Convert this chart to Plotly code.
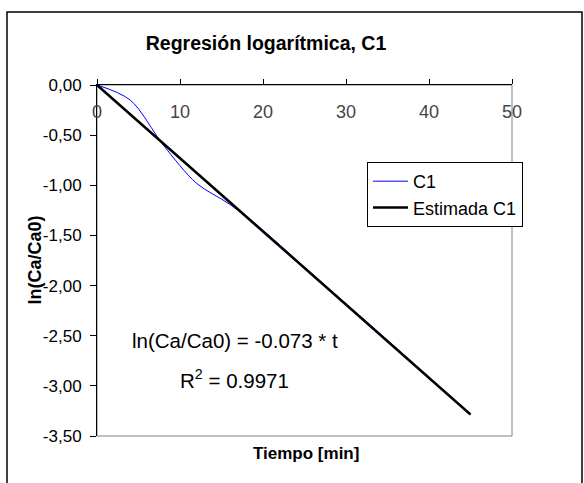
import plotly.graph_objects as go

# Data
t_c1 = [0, 4, 8, 12, 16, 20, 25, 30, 35, 40, 45]
ln_c1 = [0.0, -0.15, -0.60, -0.98, -1.19, -1.45, -1.815, -2.18, -2.545, -2.915, -3.285]
slope = -0.073
t_est = [0, 45]
ln_est = [slope * t for t in t_est]
x_ticks = [0, 10, 20, 30, 40, 50]
y_ticks = [0, -0.5, -1.0, -1.5, -2.0, -2.5, -3.0, -3.5]
y_tick_text = ["0,00", "-0,50", "-1,00", "-1,50", "-2,00", "-2,50", "-3,00", "-3,50"]

W, H = 584, 483
L, R, T, B = 97, 72, 85, 47
pw, ph = W - L - R, H - T - B

def px(xp):
    return (xp - L) / pw

def py(yp):
    return (H - B - yp) / ph

FONT = "Liberation Sans, Arial, sans-serif"

fig = go.Figure()
fig.add_trace(go.Scatter(x=t_c1, y=ln_c1, mode="lines", name="C1",
                         line=dict(color="#0000FF", width=1, shape="spline", smoothing=0.9)))
fig.add_trace(go.Scatter(x=t_est, y=ln_est, mode="lines", name="Estimada C1",
                         line=dict(color="#000000", width=2.5)))

fig.update_layout(
    width=W, height=H,
    margin=dict(l=L, r=R, t=T, b=B),
    paper_bgcolor="white", plot_bgcolor="white",
    font=dict(family=FONT, color="black", size=16),
    title=dict(text="<b>Regresión logarítmica, C1</b>", xref="container", yref="container",
               x=266 / W, y=1 - 43 / H, xanchor="center", yanchor="middle",
               font=dict(size=19.5, family=FONT, color="black")),
    xaxis=dict(range=[0, 50], tickvals=x_ticks, side="top", ticks="outside", ticklen=5,
               tickcolor="black", showline=True, linecolor="black", linewidth=1,
               showgrid=False, zeroline=False, ticklabelposition="inside",
               ticklabeloverflow="allow", ticklabelstandoff=21, tickfont=dict(size=18)),
    yaxis=dict(range=[-3.5, 0], tickvals=y_ticks, ticktext=y_tick_text, ticks="outside", ticklen=6,
               tickcolor="black", showline=True, linecolor="black", linewidth=1,
               showgrid=False, zeroline=False, ticklabelstandoff=5, tickfont=dict(size=17)),
    legend=dict(x=px(367), y=py(162), xanchor="left", yanchor="top",
                bgcolor="white", bordercolor="black", borderwidth=1,
                font=dict(size=18), tracegroupgap=0, itemwidth=35),
    showlegend=True,
)

# plot area gray border (right & bottom)
fig.add_shape(type="rect", xref="paper", yref="paper", x0=0, x1=1, y0=0, y1=1,
              line=dict(color="#808080", width=1), layer="below")
# outer chart frame
fig.add_shape(type="rect", xref="paper", yref="paper", x0=px(7), x1=px(582), y0=py(495), y1=py(12),
              line=dict(color="black", width=1.5), layer="below")

fig.add_annotation(text="<b>ln(Ca/Ca0)</b>", xref="paper", yref="paper", x=px(22), y=0.5,
                   textangle=-90, showarrow=False, font=dict(size=18))
fig.add_annotation(text="<b>Tiempo [min]</b>", xref="paper", yref="paper", x=px(306), y=py(465),
                   showarrow=False, font=dict(size=17))
fig.add_annotation(text="ln(Ca/Ca0) = -0.073 * t", xref="x", yref="y", x=16.6, y=-2.55,
                   showarrow=False, font=dict(size=20.5))
fig.add_annotation(text="R<sup>2</sup> = 0.9971", xref="x", yref="y", x=16.6, y=-2.93,
                   showarrow=False, font=dict(size=20.5))

fig.write_html("out.html")
